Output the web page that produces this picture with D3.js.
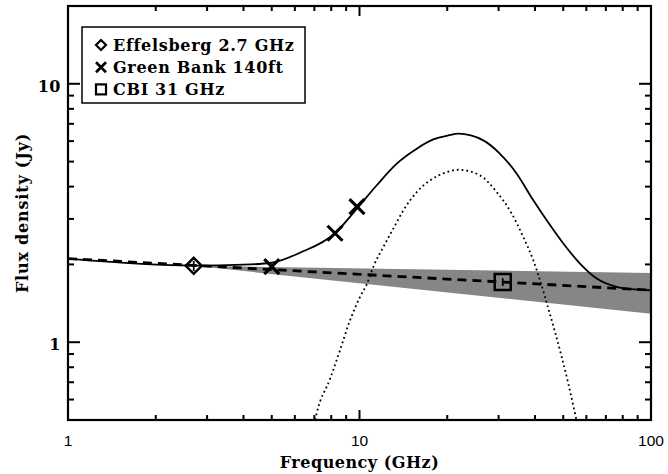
<!DOCTYPE html>
<html><head><meta charset="utf-8">
<script src="https://cdn.jsdelivr.net/npm/d3@7"></script>
<style>body{margin:0;background:#fff}svg{display:block}</style>
</head><body>
<svg id="chart" width="668" height="474"></svg>
<script>
// ---- data ----
const effFreq = [2.7], effFlux = [1.975], effErr = [0.09];
const gbFreq = [5.0, 8.24, 9.8], gbFlux = [1.96, 2.64, 3.35];
const cbiFreq = [31.0], cbiFlux = [1.71], cbiErr = [0.06];

const plFreq = [1, 2.7, 10, 31, 100];
const plFlux = [2.107, 1.983, 1.831, 1.709, 1.589];

const bandFreq = [2.7, 100];
const bandLow = [1.975, 1.29];
const bandHigh = [1.975, 1.853];

const dotFreq = [7.05, 7.13, 7.92, 8.57, 9.28, 10.04, 10.6, 11.21, 12.07, 13.06, 14.14, 15.72, 17.46, 19.91, 21.83, 25.9, 29.56, 33.28, 36.47, 39.47, 41.61, 44.44, 46.85, 49.39, 52.03, 54.87, 55.5];
const dotFlux = [0.5, 0.53, 0.72, 0.93, 1.216, 1.497, 1.68, 1.985, 2.336, 2.751, 3.237, 3.81, 4.23, 4.55, 4.65, 4.42, 3.81, 3.145, 2.553, 2.075, 1.737, 1.35, 1.096, 0.877, 0.692, 0.53, 0.5];

const totFreq = [1, 2.7, 4, 5, 6.25, 8.24, 9.78, 11.46, 13.42, 15.72, 17.91, 20.16, 21.83, 26.59, 30.34, 34.62, 39.47, 43.87, 50.03, 57.07, 65.13, 76.25, 88, 100];
const totFlux = [2.107, 1.98, 1.995, 2.03, 2.22, 2.64, 3.28, 4.05, 4.91, 5.61, 6.09, 6.31, 6.41, 6.04, 5.36, 4.49, 3.54, 2.962, 2.41, 2.015, 1.763, 1.636, 1.6, 1.589];

const xMajor = [1, 10, 100], xMajorLabels = ["1", "10", "100"];
const xMinor = [2,3,4,5,6,7,8,9,20,30,40,50,60,70,80,90];
const yMajor = [1, 10], yMajorLabels = ["1", "10"];
const yMinor = [0.6,0.7,0.8,0.9,2,3,4,5,6,7,8,9];

const legendLabels = ["Effelsberg 2.7 GHz", "Green Bank 140ft", "CBI 31 GHz"];
const legendSymbols = ["diamond", "cross", "square"];

// ---- layout ----
const L = 68, R = 651, T = 6, B = 420;
const svg = d3.select("#chart");
const x = d3.scaleLog().domain([1, 100]).range([L, R]);
const y = d3.scaleLog().domain([0.5, 20]).range([B, T]);

svg.append("defs").append("clipPath").attr("id","clip")
  .append("rect").attr("x",L).attr("y",T).attr("width",R-L).attr("height",B-T);
const plot = svg.append("g").attr("clip-path","url(#clip)");

// band
const bandData = bandFreq.map((f,i)=>({f, lo: bandLow[i], hi: bandHigh[i]}));
plot.append("path").datum(bandData)
  .attr("d", d3.area().x(d=>x(d.f)).y0(d=>y(d.lo)).y1(d=>y(d.hi)))
  .attr("fill","#868686");

// power-law dashed
const line = d3.line().x(d=>x(d[0])).y(d=>y(d[1]));
plot.append("path").datum(plFreq.map((f,i)=>[f,plFlux[i]]))
  .attr("d", line).attr("fill","none").attr("stroke","#000")
  .attr("stroke-width",2.8).attr("stroke-dasharray","9,6");

// dotted component
const smooth = d3.line().x(d=>x(d[0])).y(d=>y(d[1])).curve(d3.curveMonotoneX);
plot.append("path").datum(dotFreq.map((f,i)=>[f,dotFlux[i]]))
  .attr("d", smooth).attr("fill","none").attr("stroke","#000")
  .attr("stroke-width",1.8).attr("stroke-dasharray","1.8,3");

// total solid
plot.append("path").datum(totFreq.map((f,i)=>[f,totFlux[i]]))
  .attr("d", smooth).attr("fill","none").attr("stroke","#000")
  .attr("stroke-width",1.8);

// markers
function symbol(g, type, cx, cy, s, sw){
  if(type==="diamond"){
    g.append("path").attr("d",`M${cx},${cy-s}L${cx+s},${cy}L${cx},${cy+s}L${cx-s},${cy}Z`)
      .attr("fill","none").attr("stroke","#000").attr("stroke-width",sw);
  } else if(type==="square"){
    g.append("rect").attr("x",cx-s).attr("y",cy-s).attr("width",2*s).attr("height",2*s)
      .attr("fill","none").attr("stroke","#000").attr("stroke-width",sw);
  } else {
    g.append("path").attr("d",`M${cx-s},${cy-s}L${cx+s},${cy+s}M${cx-s},${cy+s}L${cx+s},${cy-s}`)
      .attr("fill","none").attr("stroke","#000").attr("stroke-width",sw*1.2);
  }
}
const mk = svg.append("g");
effFreq.forEach((f,i)=>{
  mk.append("line").attr("x1",x(f)).attr("x2",x(f)).attr("y1",y(effFlux[i]-effErr[i])).attr("y2",y(effFlux[i]+effErr[i]))
    .attr("stroke","#000").attr("stroke-width",1.8);
  symbol(mk,"diamond",x(f),y(effFlux[i]),8,2.5);
});
gbFreq.forEach((f,i)=>symbol(mk,"cross",x(f),y(gbFlux[i]),7.5,2.6));
cbiFreq.forEach((f,i)=>{
  mk.append("line").attr("x1",x(f)).attr("x2",x(f)).attr("y1",y(cbiFlux[i]-cbiErr[i])).attr("y2",y(cbiFlux[i]+cbiErr[i]))
    .attr("stroke","#000").attr("stroke-width",1.8);
  symbol(mk,"square",x(f),y(cbiFlux[i]),8,2.5);
});

// axes (inward ticks on all four sides)
const ax = svg.append("g").attr("stroke","#000");
function ticks(vals, len, sw){
  vals.forEach(v=>{
    ax.append("line").attr("x1",x(v)).attr("x2",x(v)).attr("y1",B).attr("y2",B-len).attr("stroke-width",sw);
    ax.append("line").attr("x1",x(v)).attr("x2",x(v)).attr("y1",T).attr("y2",T+len).attr("stroke-width",sw);
  });
}
function yticks(vals, len, sw){
  vals.forEach(v=>{
    ax.append("line").attr("y1",y(v)).attr("y2",y(v)).attr("x1",L).attr("x2",L+len).attr("stroke-width",sw);
    ax.append("line").attr("y1",y(v)).attr("y2",y(v)).attr("x1",R).attr("x2",R-len).attr("stroke-width",sw);
  });
}
ticks(xMajor.slice(1,2), 10, 2);
ticks(xMinor, 5, 2);
yticks(yMajor, 12, 2);
yticks(yMinor, 6, 2);
ax.append("rect").attr("x",L).attr("y",T).attr("width",R-L).attr("height",B-T)
  .attr("fill","none").attr("stroke-width",2.2);

// tick labels
xMajor.forEach((v,i)=>{
  svg.append("text").attr("x",x(v)).attr("y",446).attr("text-anchor","middle")
    .attr("font-family","Liberation Sans, Arial, sans-serif").attr("font-size",15.5)
    .text(xMajorLabels[i]);
});
yMajor.forEach((v,i)=>{
  svg.append("text").attr("x",61).attr("y",y(v)+8).attr("text-anchor","end")
    .attr("font-family","DejaVu Serif, serif").attr("font-weight","bold").attr("font-size",16)
    .attr("letter-spacing",0.5).text(yMajorLabels[i]);
});

// axis titles
svg.append("text").attr("x",(L+R)/2).attr("y",468).attr("text-anchor","middle")
  .attr("font-family","DejaVu Serif, serif").attr("font-weight","bold").attr("font-size",16)
  .attr("letter-spacing",0.5).text("Frequency (GHz)");
svg.append("text").attr("transform",`translate(28,${(T+B)/2}) rotate(-90)`).attr("text-anchor","middle")
  .attr("font-family","DejaVu Serif, serif").attr("font-weight","bold").attr("font-size",16)
  .attr("letter-spacing",0.8).text("Flux density (Jy)");

// legend
const lg = svg.append("g");
lg.append("rect").attr("x",82).attr("y",27).attr("width",223).attr("height",76)
  .attr("fill","#fff").attr("stroke","#000").attr("stroke-width",1.5);
legendLabels.forEach((t,i)=>{
  const cy = 45 + i*22.2;
  symbol(lg, legendSymbols[i], 101, cy, 5, 2.2);
  lg.append("text").attr("x",113).attr("y",cy+6).attr("font-family","DejaVu Serif, serif")
    .attr("font-weight","bold").attr("font-size",16).attr("letter-spacing",0.7).text(t);
});
</script>
</body></html>
